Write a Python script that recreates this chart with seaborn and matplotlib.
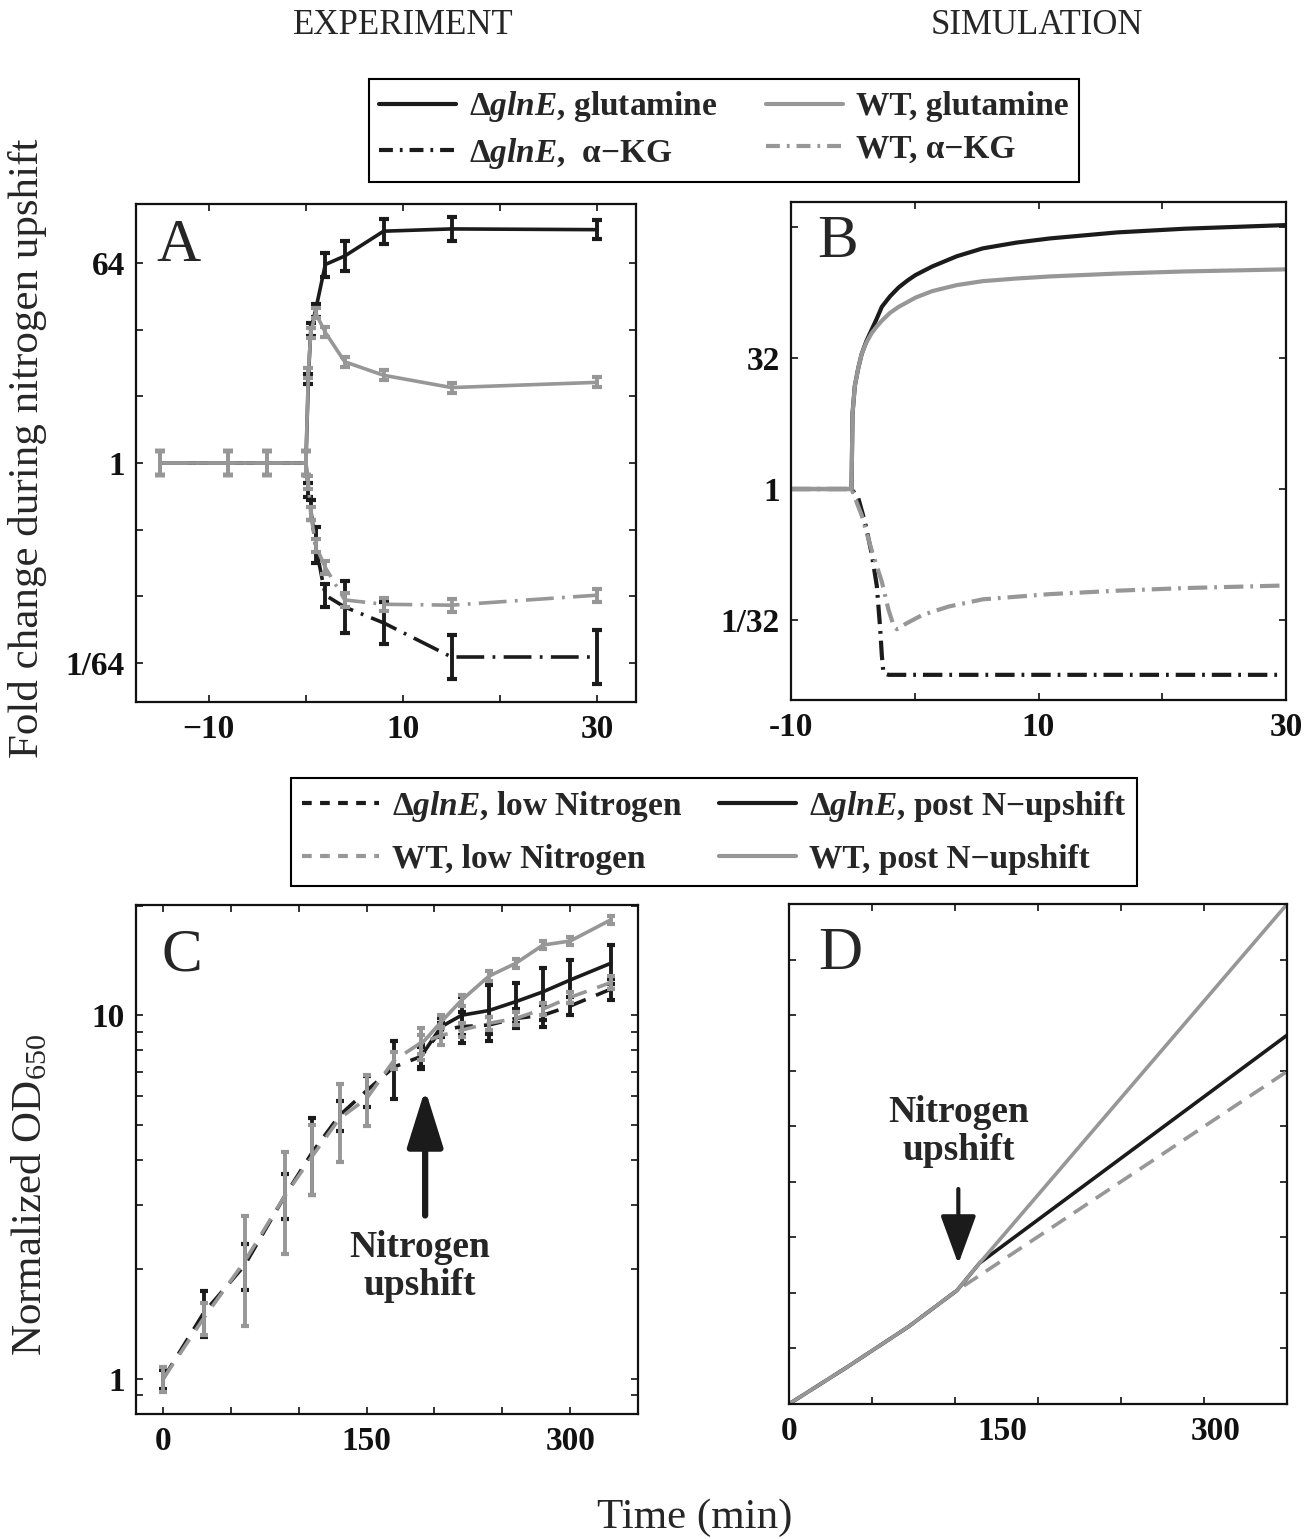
import numpy as np
import pandas as pd
import matplotlib
matplotlib.use("Agg")
import matplotlib.pyplot as plt
import seaborn as sns
from matplotlib.lines import Line2D
from matplotlib.ticker import FixedLocator, FixedFormatter, NullFormatter, NullLocator

# ---------------- data ----------------
# Panel A (experiment): time (min), fold change, error half-width in log2 units
tA = [-15, -8, -4, 0, 0.25, 0.5, 1, 2, 4, 8, 15, 30]
A_dglnE_gln = [1, 1, 1, 1, 5.7, 16, 24, 62, 74, 124, 130, 128]
A_dglnE_gln_err = [0.35, 0.35, 0.35, 0.35, 0.15, 0.2, 0.2, 0.36, 0.46, 0.37, 0.37, 0.28]
A_WT_gln = [1, 1, 1, 1, 6.5, 15, 22.6, 15.1, 8.2, 6.2, 4.8, 5.35]
A_WT_gln_err = [0.35, 0.35, 0.35, 0.35, 0.15, 0.15, 0.15, 0.15, 0.15, 0.15, 0.15, 0.15]
A_dglnE_akg = [1, 1, 1, 1, 0.57, 0.38, 0.18, 0.064, 0.050, 0.036, 0.0177, 0.0177]
A_dglnE_akg_err = [0.35, 0.35, 0.35, 0.35, 0.2, 0.3, 0.54, 0.35, 0.77, 0.64, 0.67, 0.8]
A_WT_akg = [1, 1, 1, 1, 0.67, 0.35, 0.18, 0.114, 0.058, 0.053, 0.052, 0.064]
A_WT_akg_err = [0.35, 0.35, 0.35, 0.35, 0.2, 0.2, 0.2, 0.2, 0.2, 0.2, 0.2, 0.2]

# Panel B (simulation): time (min), log2 fold change
tB_gln = [-10, -5.11, -5.03, -4.84, -4.57, -4.29, -3.9, -3.48, -3.07, -2.66, -2.0, -1.30,
          -0.6, 0.05, 1.41, 3.4, 5.49, 8.2, 10.92, 16.36, 21.79, 30]
B_dglnE_gln_log2 = [0, 0, 2.87, 3.94, 4.6, 5.15, 5.65, 6.08, 6.5, 6.95, 7.35, 7.69,
                    7.95, 8.16, 8.49, 8.88, 9.18, 9.4, 9.56, 9.79, 9.93, 10.07]
B_WT_gln_log2 = [0, 0, 2.87, 3.94, 4.6, 5.15, 5.6, 5.95, 6.2, 6.42, 6.72, 6.95,
                 7.13, 7.3, 7.55, 7.78, 7.93, 8.03, 8.11, 8.22, 8.3, 8.38]
tB_dglnE_akg = [-10, -5.11, -4.57, -4.02, -3.48, -3.07, -2.80, -2.66, -2.53, -2.12, 29.5]
B_dglnE_akg_log2 = [0, 0, -0.33, -1.27, -2.47, -3.68, -5.28, -6.35, -7.02, -7.09, -7.09]
tB_WT_akg = [-10, -5.11, -4.29, -3.48, -2.66, -2.12, -1.71, -1.44, -0.76, 0.6, 2.77,
             5.49, 10.92, 16.36, 21.79, 30]
B_WT_akg_log2 = [0, 0, -1.0, -2.34, -3.54, -4.61, -5.21, -5.35, -5.15, -4.81, -4.48,
                 -4.21, -4.01, -3.88, -3.78, -3.68]

# Panel C (experiment): normalized OD650
tC_low = [0, 30, 60, 90, 110, 130, 150, 170, 190, 205, 220, 240, 260, 280, 300, 330]
C_dglnE_low = [1.0, 1.52, 2.05, 3.2, 4.2, 5.3, 6.2, 7.2, 7.7, 9.1, 9.3, 9.4, 9.8, 10.0, 10.6, 11.8]
C_dglnE_low_err = [0.06, 0.22, 0.3, 0.45, 1.0, 0.5, 0.6, 1.3, 0.5, 0.4, 0.9, 0.5, 0.6, 0.7, 0.6, 0.8]
C_WT_low = [1.0, 1.47, 2.1, 3.2, 4.1, 5.2, 5.9, 7.5, 8.4, 8.8, 9.1, 9.5, 9.8, 10.4, 11.2, 12.3]
C_WT_low_err = [0.08, 0.15, 0.7, 1.0, 0.9, 1.25, 0.95, 0.4, 0.85, 0.5, 0.4, 0.4, 0.4, 0.4, 0.4, 0.5]
tC_post = [190, 205, 220, 240, 260, 280, 300, 330]
C_dglnE_post = [7.7, 9.3, 10.0, 10.3, 10.9, 11.6, 12.5, 13.9]
C_dglnE_post_err = [0.6, 0.5, 1.2, 1.8, 1.4, 1.9, 1.7, 1.7]
C_WT_post = [8.3, 9.6, 11.0, 12.8, 13.9, 15.6, 16.0, 18.3]
C_WT_post_err = [0.5, 0.4, 0.4, 0.4, 0.4, 0.4, 0.4, 0.5]

# Panel D (simulation): OD (log scale)
tD_low = [0, 41, 84, 118, 350]
D_low = [1.0, 1.26, 1.62, 2.03, 7.96]
tD_post = [0, 41, 84, 118, 134, 350]
D_dglnE_post = [1.0, 1.26, 1.62, 2.03, 2.41, 9.98]
D_WT_post = [1.0, 1.26, 1.62, 2.03, 2.41, 22.6]

# ---------------- style ----------------
sns.set_style("ticks")
BLACK = "#1b1b1b"
GRAY = "#979797"
SERIF = ["Liberation Serif", "DejaVu Serif"]
plt.rcParams.update({
    "font.family": SERIF,
    "mathtext.fontset": "custom",
    "mathtext.rm": "Liberation Serif",
    "mathtext.it": "Liberation Serif:italic:bold",
    "mathtext.bf": "Liberation Serif:bold",
    "lines.scale_dashes": False,
    "axes.linewidth": 1.6,
    "axes.edgecolor": "#111111",
    "xtick.direction": "in", "ytick.direction": "in",
    "xtick.top": True, "ytick.right": True,
    "xtick.major.size": 5, "ytick.major.size": 5,
    "xtick.minor.size": 5, "ytick.minor.size": 5,
    "xtick.major.width": 1.2, "ytick.major.width": 1.2,
    "xtick.minor.width": 1.2, "ytick.minor.width": 1.2,
    "xtick.color": "#111111", "ytick.color": "#111111",
    "xtick.major.pad": 9, "ytick.major.pad": 8,
})
TICKFONT = dict(family=SERIF, weight="bold", size=24)

DASHDOT_A = (0, (20, 6, 2, 6))
DASHDOT_B = (0, (14, 5, 2, 5))
DASHED_C = (0, (13, 8))
DASHED_D = (0, (12, 7))

fig = plt.figure(figsize=(13.13, 15.39), dpi=100)
W, H = 1313, 1539


def add_ax(left, top, right, bottom):
    return fig.add_axes([left / W, 1 - bottom / H, (right - left) / W, (bottom - top) / H])


axA = add_ax(136, 204, 636, 702)
axB = add_ax(791, 202, 1286, 700)
axC = add_ax(136, 905, 638, 1414)
axD = add_ax(789, 904, 1287, 1404)


def line(ax, x, y, color, lw, ls="-"):
    sns.lineplot(x=x, y=y, ax=ax, color=color, lw=lw, linestyle=ls,
                 estimator=None, sort=False, legend=False)


def log2_errbar(ax, x, y, e, color):
    y = np.asarray(y, float)
    e = np.asarray(e, float)
    yerr = [y - y / 2 ** e, y * 2 ** e - y]
    ax.errorbar(x, y, yerr=yerr, fmt="none", ecolor=color, elinewidth=2.8,
                capsize=3.5, capthick=3)


def lin_errbar(ax, x, y, e, color):
    ax.errorbar(x, y, yerr=e, fmt="none", ecolor=color, elinewidth=2.8,
                capsize=3, capthick=3)


def style_ticks(ax):
    fp = matplotlib.font_manager.FontProperties(**TICKFONT)
    for lab in ax.get_xticklabels() + ax.get_yticklabels():
        lab.set_fontproperties(fp)


def pow2(v):
    return [2.0 ** x for x in v]


# ---------------- Panel A ----------------
axA.set_yscale("log", base=2)
line(axA, tA, A_dglnE_akg, BLACK, 2.6, DASHDOT_A)
log2_errbar(axA, tA, A_dglnE_akg, A_dglnE_akg_err, BLACK)
line(axA, tA, A_dglnE_gln, BLACK, 2.6)
log2_errbar(axA, tA, A_dglnE_gln, A_dglnE_gln_err, BLACK)
line(axA, tA, A_WT_akg, GRAY, 2.6, DASHDOT_A)
log2_errbar(axA, tA, A_WT_akg, A_WT_akg_err, GRAY)
line(axA, tA, A_WT_gln, GRAY, 2.6)
log2_errbar(axA, tA, A_WT_gln, A_WT_gln_err, GRAY)
axA.set_xlim(-17.5, 34.0)
axA.set_ylim(2 ** -7.17, 2 ** 7.77)
axA.xaxis.set_major_locator(FixedLocator([-10, 0, 10, 20, 30]))
axA.xaxis.set_major_formatter(FixedFormatter(["\u221210", "", "10", "", "30"]))
axA.yaxis.set_major_locator(FixedLocator([2.0 ** k for k in (-6, -4, -2, 0, 2, 4, 6)]))
axA.yaxis.set_major_formatter(FixedFormatter(["1/64", "", "", "1", "", "", "64"]))
axA.yaxis.set_minor_locator(NullLocator())
axA.text(0.085, 0.915, "A", transform=axA.transAxes, fontsize=44, ha="center", va="center")

# ---------------- Panel B ----------------
axB.set_yscale("log", base=2)
line(axB, tB_dglnE_akg, pow2(B_dglnE_akg_log2), BLACK, 3.0, DASHDOT_B)
line(axB, tB_WT_akg, pow2(B_WT_akg_log2), GRAY, 3.0, DASHDOT_B)
line(axB, tB_gln, pow2(B_dglnE_gln_log2), BLACK, 3.0)
line(axB, tB_gln, pow2(B_WT_gln_log2), GRAY, 3.0)
axB.set_xlim(-10, 30)
axB.set_ylim(2 ** -8.05, 2 ** 10.95)
axB.xaxis.set_major_locator(FixedLocator([-10, 0, 10, 20, 30]))
axB.xaxis.set_major_formatter(FixedFormatter(["-10", "", "10", "", "30"]))
axB.yaxis.set_major_locator(FixedLocator([2.0 ** k for k in (-5, 0, 5, 10)]))
axB.yaxis.set_major_formatter(FixedFormatter(["1/32", "1", "32", ""]))
axB.yaxis.set_minor_locator(NullLocator())
axB.text(0.095, 0.92, "B", transform=axB.transAxes, fontsize=44, ha="center", va="center")

# ---------------- Panel C ----------------
axC.set_yscale("log")
line(axC, tC_low, C_dglnE_low, BLACK, 2.6, DASHED_C)
lin_errbar(axC, tC_low, C_dglnE_low, C_dglnE_low_err, BLACK)
line(axC, tC_post, C_dglnE_post, BLACK, 2.6)
lin_errbar(axC, tC_post, C_dglnE_post, C_dglnE_post_err, BLACK)
line(axC, tC_low, C_WT_low, GRAY, 2.6, DASHED_C)
lin_errbar(axC, tC_low, C_WT_low, C_WT_low_err, GRAY)
line(axC, tC_post, C_WT_post, GRAY, 2.6)
lin_errbar(axC, tC_post, C_WT_post, C_WT_post_err, GRAY)
axC.set_xlim(-20, 350)
axC.set_ylim(0.8, 20.1)
axC.xaxis.set_major_locator(FixedLocator([0, 50, 100, 150, 200, 250, 300]))
axC.xaxis.set_major_formatter(FixedFormatter(["0", "", "", "150", "", "", "300"]))
axC.yaxis.set_major_locator(FixedLocator([1, 10]))
axC.yaxis.set_major_formatter(FixedFormatter(["1", "10"]))
axC.yaxis.set_minor_locator(FixedLocator([0.9, 2, 3, 4, 5, 6, 7, 8, 9, 20]))
axC.yaxis.set_minor_formatter(NullFormatter())
axC.text(0.092, 0.90, "C", transform=axC.transAxes, fontsize=44, ha="center", va="center")
axC.annotate("", xy=(0.576, 0.638), xytext=(0.576, 0.39), xycoords="axes fraction",
             arrowprops=dict(arrowstyle="-|>,head_length=1.6,head_width=0.5", lw=4.5,
                             color=BLACK, shrinkA=0, shrinkB=0, mutation_scale=22))
axC.text(0.565, 0.29, "Nitrogen\nupshift", transform=axC.transAxes, fontsize=27,
         fontweight="bold", ha="center", va="center", linespacing=1.1)

# ---------------- Panel D ----------------
axD.set_yscale("log", base=2)
line(axD, tD_low, D_low, GRAY, 2.6, DASHED_D)
line(axD, tD_post, D_dglnE_post, BLACK, 2.6)
line(axD, tD_post, D_WT_post, GRAY, 2.6)
axD.set_xlim(0, 350)
axD.set_ylim(1, 2 ** 4.5)
axD.xaxis.set_major_locator(FixedLocator([0, 150, 300]))
axD.xaxis.set_major_formatter(FixedFormatter(["0", "150", "300"]))
axD.tick_params(axis="x", which="major", length=0)
axD.xaxis.set_minor_locator(FixedLocator(list(np.linspace(0, 350, 7))))
axD.yaxis.set_major_locator(FixedLocator([2 ** (k / 2) for k in range(10)]))
axD.yaxis.set_major_formatter(NullFormatter())
axD.yaxis.set_minor_locator(NullLocator())
axD.text(0.103, 0.90, "D", transform=axD.transAxes, fontsize=44, ha="center", va="center")
axD.annotate("", xy=(0.34, 0.28), xytext=(0.34, 0.43), xycoords="axes fraction",
             arrowprops=dict(arrowstyle="-|>,head_length=1.5,head_width=0.55", lw=3,
                             color=BLACK, shrinkA=0, shrinkB=0, mutation_scale=20))
axD.text(0.34, 0.545, "Nitrogen\nupshift", transform=axD.transAxes, fontsize=27,
         fontweight="bold", ha="center", va="center", linespacing=1.1)

for ax in (axA, axB, axC, axD):
    ax.set_xlabel("")
    ax.set_ylabel("")
    for s in ax.spines.values():
        s.set_visible(True)
    style_ticks(ax)

# ---------------- legends ----------------
leg_font = matplotlib.font_manager.FontProperties(family=SERIF, weight="bold", size=24)
h1 = [Line2D([], [], color=BLACK, lw=3),
      Line2D([], [], color=BLACK, lw=3, linestyle=(0, (10, 5, 2, 5))),
      Line2D([], [], color=GRAY, lw=3),
      Line2D([], [], color=GRAY, lw=3, linestyle=(0, (10, 5, 2, 5)))]
l1 = ["\u0394$\\mathit{glnE}$, glutamine", "\u0394$\\mathit{glnE}$,  \u03b1\u2212KG",
      "WT, glutamine", "WT, \u03b1\u2212KG"]
leg1 = fig.legend(h1, l1, ncol=2, loc="center", bbox_to_anchor=(724 / W, 1 - 130 / H),
                  prop=leg_font, frameon=True, fancybox=False, edgecolor="black",
                  framealpha=1, handlelength=2.3, columnspacing=1.45, labelspacing=0.35,
                  borderpad=0.32, handletextpad=0.4)
leg1.get_frame().set_linewidth(1.5)

h2 = [Line2D([], [], color=BLACK, lw=3, linestyle=(0, (7, 6))),
      Line2D([], [], color=GRAY, lw=3, linestyle=(0, (7, 6))),
      Line2D([], [], color=BLACK, lw=3),
      Line2D([], [], color=GRAY, lw=3)]
l2 = ["\u0394$\\mathit{glnE}$, low Nitrogen", "WT, low Nitrogen",
      "\u0394$\\mathit{glnE}$, post N\u2212upshift", "WT, post N\u2212upshift"]
leg2 = fig.legend(h2, l2, ncol=2, loc="center", bbox_to_anchor=(714 / W, 1 - 832 / H),
                  prop=leg_font, frameon=True, fancybox=False, edgecolor="black",
                  framealpha=1, handlelength=2.3, columnspacing=1.1, labelspacing=0.6,
                  borderpad=0.32, handletextpad=0.4)
leg2.get_frame().set_linewidth(1.5)

# ---------------- figure texts ----------------
fig.text(403 / W, 1 - 25 / H, "EXPERIMENT", fontsize=25, ha="center", va="center")
fig.text(1037 / W, 1 - 25 / H, "SIMULATION", fontsize=25, ha="center", va="center")
fig.text(28 / W, 1 - 448 / H, "Fold change during nitrogen upshift", fontsize=31,
         rotation=90, ha="center", va="center")
fig.text(30 / W, 1 - 1195 / H, "Normalized OD$_{650}$", fontsize=31,
         rotation=90, ha="center", va="center")
fig.text(695 / W, 1 - 1518 / H, "Time (min)", fontsize=31, ha="center", va="center")

fig.savefig("out.png", dpi=100)
